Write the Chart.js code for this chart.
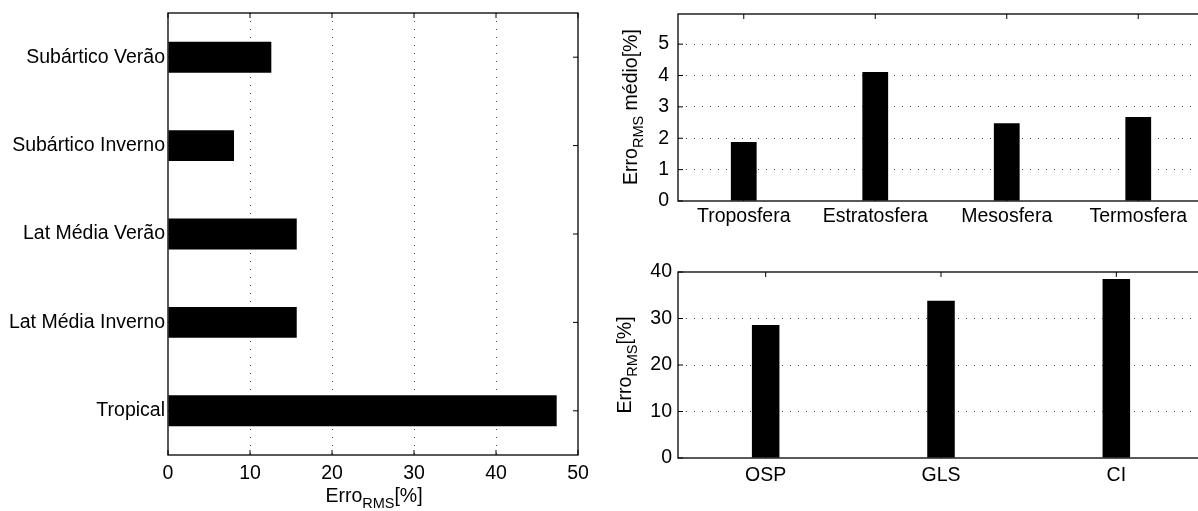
<!DOCTYPE html>
<html>
<head>
<meta charset="utf-8">
<script src="https://cdn.jsdelivr.net/npm/chart.js@4.4.0/dist/chart.umd.min.js"></script>
<style>
html, body { margin: 0; padding: 0; background: #fff; overflow: hidden; width: 1198px; height: 511px; }
canvas { position: absolute; }
</style>
</head>
<body>
<canvas id="perfis" width="600" height="511" style="left:0;top:0"></canvas>
<canvas id="camadas" width="620" height="250" style="left:600px;top:0"></canvas>
<canvas id="metodos" width="620" height="261" style="left:600px;top:250px"></canvas>
<script>
// valores
const perfis = ['Subártico Verão', 'Subártico Inverno', 'Lat Média Verão', 'Lat Média Inverno', 'Tropical']
const erroPerfis = [12.6, 8.05, 15.7, 15.7, 47.4]

const camadas = ['Troposfera', 'Estratosfera', 'Mesosfera', 'Termosfera']
const erroCamadas = [1.88, 4.11, 2.48, 2.68]

const metodos = ['OSP', 'GLS', 'CI']
const erroMetodos = [28.6, 33.8, 38.5]

const FONTE = '"Liberation Sans", Arial, sans-serif'
Chart.defaults.font.family = FONTE
Chart.defaults.font.size = 19.5
Chart.defaults.color = '#000'

// caixa fechada e ticks para dentro, como no matlab
const moldura = {
    id: 'moldura',
    afterDatasetsDraw(chart) {
        const ctx = chart.ctx
        const a = chart.chartArea
        const len = 5
        ctx.save()
        ctx.strokeStyle = '#000'
        ctx.lineWidth = 1.3
        ctx.strokeRect(a.left, a.top, a.right - a.left, a.bottom - a.top)
        ctx.lineWidth = 1
        Object.values(chart.scales).forEach(s => {
            s.ticks.forEach((t, i) => {
                const p = s.getPixelForTick(i)
                ctx.beginPath()
                if (s.isHorizontal()) {
                    ctx.moveTo(p, a.bottom); ctx.lineTo(p, a.bottom - len)
                    ctx.moveTo(p, a.top); ctx.lineTo(p, a.top + len)
                } else {
                    ctx.moveTo(a.left, p); ctx.lineTo(a.left + len, p)
                    ctx.moveTo(a.right, p); ctx.lineTo(a.right - len, p)
                }
                ctx.stroke()
            })
        })
        ctx.restore()
    }
}

// titulo de eixo com subscrito
const rotulo = {
    id: 'rotulo',
    afterDraw(chart, args, opts) {
        const ctx = chart.ctx
        const fonte = sub => (sub ? 14.5 : 19.5) + 'px ' + FONTE
        let total = 0
        opts.partes.forEach(([t, sub]) => { ctx.font = fonte(sub); total += ctx.measureText(t).width })
        ctx.save()
        ctx.fillStyle = '#000'
        ctx.textBaseline = 'alphabetic'
        ctx.textAlign = 'left'
        ctx.translate(opts.x, opts.y)
        if (opts.vertical) ctx.rotate(-Math.PI / 2)
        let cx = -total / 2
        opts.partes.forEach(([t, sub]) => {
            ctx.font = fonte(sub)
            ctx.fillText(t, cx, sub ? 6 : 0)
            cx += ctx.measureText(t).width
        })
        ctx.restore()
    }
}

const pontilhado = (ini, fim) => ({
    display: true,
    drawTicks: false,
    lineWidth: 1,
    color: c => (c.tick && (c.tick.value === ini || c.tick.value >= fim)) ? 'rgba(0,0,0,0)' : 'rgba(0,0,0,0.7)'
})
const semGrade = { display: false, drawTicks: false }

// eixo com tamanho fixo, sem folga extra dos rotulos
const fixa = (prop, v) => s => { s[prop] = v; s.paddingTop = 0; s.paddingBottom = 0; s.paddingLeft = 0; s.paddingRight = 0 }

new Chart(document.querySelector('#perfis'), {
    type: 'bar',
    data: {
        labels: perfis,
        datasets: [{ data: erroPerfis, backgroundColor: '#000', borderWidth: 0, categoryPercentage: 1, barPercentage: 0.35 }]
    },
    options: {
        indexAxis: 'y',
        responsive: false,
        animation: false,
        layout: { padding: { top: 13, right: 22, left: 0, bottom: 0 } },
        scales: {
            x: {
                type: 'linear', min: 0, max: 50,
                ticks: { stepSize: 10, padding: 7 },
                grid: pontilhado(0, 50),
                border: { display: false, dash: [1, 7] },
                afterFit: fixa('height', 56)
            },
            y: {
                type: 'category', offset: true,
                ticks: { padding: 3 },
                grid: semGrade,
                border: { display: false },
                afterFit: fixa('width', 168)
            }
        },
        plugins: {
            legend: { display: false },
            tooltip: { enabled: false },
            rotulo: { partes: [['Erro', false], ['RMS', true], ['[%]', false]], x: 374, y: 502, vertical: false }
        }
    },
    plugins: [moldura, rotulo]
})

new Chart(document.querySelector('#camadas'), {
    type: 'bar',
    data: {
        labels: camadas,
        datasets: [{ data: erroCamadas, backgroundColor: '#000', borderWidth: 0, categoryPercentage: 1, barPercentage: 0.196 }]
    },
    options: {
        responsive: false,
        animation: false,
        layout: { padding: { top: 14, right: 16, left: 0, bottom: 0 } },
        scales: {
            x: {
                type: 'category', offset: true,
                ticks: { padding: 4, maxRotation: 0, autoSkip: false },
                grid: semGrade,
                border: { display: false },
                afterFit: fixa('height', 49)
            },
            y: {
                type: 'linear', min: 0, max: 5.96,
                ticks: { stepSize: 1, padding: 9, includeBounds: false },
                grid: pontilhado(0, 5.96),
                border: { display: false, dash: [1, 7] },
                afterFit: fixa('width', 78)
            }
        },
        plugins: {
            legend: { display: false },
            tooltip: { enabled: false },
            rotulo: { partes: [['Erro', false], ['RMS', true], [' médio[%]', false]], x: 37, y: 107, vertical: true }
        }
    },
    plugins: [moldura, rotulo]
})

new Chart(document.querySelector('#metodos'), {
    type: 'bar',
    data: {
        labels: metodos,
        datasets: [{ data: erroMetodos, backgroundColor: '#000', borderWidth: 0, categoryPercentage: 1, barPercentage: 0.157 }]
    },
    options: {
        responsive: false,
        animation: false,
        layout: { padding: { top: 22, right: 16, left: 0, bottom: 0 } },
        scales: {
            x: {
                type: 'category', offset: true,
                ticks: { padding: 6, maxRotation: 0, autoSkip: false },
                grid: semGrade,
                border: { display: false },
                afterFit: fixa('height', 53)
            },
            y: {
                type: 'linear', min: 0, max: 40,
                ticks: { stepSize: 10, padding: 6 },
                grid: pontilhado(0, 40),
                border: { display: false, dash: [1, 7] },
                afterFit: fixa('width', 78)
            }
        },
        plugins: {
            legend: { display: false },
            tooltip: { enabled: false },
            rotulo: { partes: [['Erro', false], ['RMS', true], ['[%]', false]], x: 31, y: 115, vertical: true }
        }
    },
    plugins: [moldura, rotulo]
})
</script>
</body>
</html>
